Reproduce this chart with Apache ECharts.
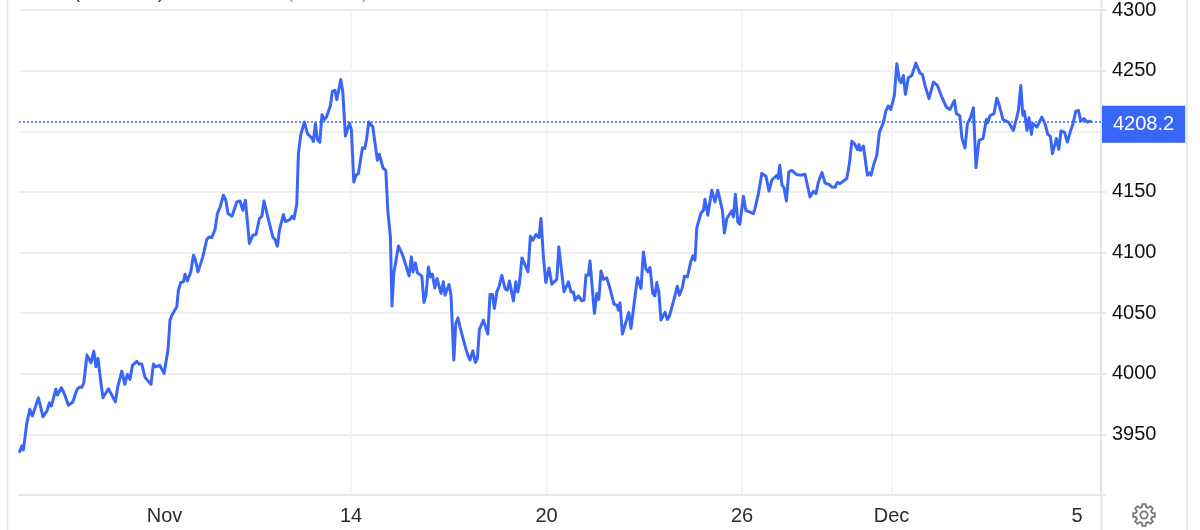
<!DOCTYPE html>
<html>
<head>
<meta charset="utf-8">
<style>html,body{margin:0;padding:0;background:#fff}#c{width:1200px;height:530px}</style>
<script src="https://cdn.jsdelivr.net/npm/echarts@6/dist/echarts.min.js"></script>
</head>
<body>
<div id="c"></div>
<script>
const tickHours = [72.75, 166, 263.75, 361.5, 436.25, 529];
const tickLabels = ['Nov', '14', '20', '26', 'Dec', '5'];
const currentPrice = 4208.2;
const hours = [
0.3,1.4,2.2,3.9,5.4,6.7,7.7,9.7,12,14,15.2,16.2,18.4,19.2,20.2,21.2,22.7,24.7,26.9,28.9,30,31.4,32.4,34,36,37.4,38.5,39.5,41,42,43,44.7,45.7,48.2,49.4,50.4,51.4,52.9,54.2,55.5,56.7,58.9,60,61.4,63,64,66,67.2,68.2,70.4,72.5,74.5,
75.5,76.5,78.9,79.7,80.9,82.2,83,84.2,85.9,87.2,88.2,89.5,90.5,91.9,93.9,95,96.4,98,99.2,100.5,102.2,103.4,104.5,106.5,108.9,110.5,111.9,113.2,115.2,116.9,118.5,120.2,121.4,122.5,123.9,124.9,126.9,128,129.2,130.2,131.2,132.2,133.2,135.5,136.5,137.5,
138.9,139.7,140.9,142.7,144.2,146.4,147.2,148.2,149.2,150.4,151.5,152.7,153.9,154.9,155.7,156.7,158,158.9,160.9,161.9,163.2,165.2,166.2,167.4,168.5,169.7,171.7,172.9,173.7,174.9,176.9,179.2,180.2,182,183.4,184.4,185.7,186.5,187.4,189.7,191.7,193.4,195,196.2,197,198.2,199.2,201.4,202.5,203.5,204.7,205.7,206.7,207.9,209,210,211,212.2,
213,215,216,217.4,218.4,219.5,220.5,221.5,222.9,224.4,225.5,226.9,228.2,229.2,230.2,232.2,234.4,235.5,236.7,237.7,238.9,240,241.4,243,244.2,245.2,247.2,248.4,249.4,250.2,251.5,254.5,255.7,256.9,258.5,260,261,262.2,263.4,265,266.4,268.9,269.9,270.7,272.5,274.7,276,277.2,278,279.7,281.4,282.5,283.5,284.7,285.5,287.7,288.9,289.9,291,292.2,293.9,295.5,297.5,298.9,299.7,300.5,301.7,302.7,304.9,306,306.9,308.2,309.2,311,312.2,313.4,314.4,315.5,316.9,317.9,318.9,319.9,321,321.9,323,324.2,325.2,327.7,329.2,330.2,331.7,332.7,334.2,335.9,336.9,338,338.9,339.9,341,342.2,343,344.4,346.4,348,349.4,351.7,352.7,353.9,356.4,357.2,358.2,359.4,360.4,362.2,363.4,367.2,
368,369.7,371.4,373.5,375,376.4,378.9,379.5,380.4,381.5,382.5,383.7,384.9,386.4,388.9,391,393,395.5,397.2,398.5,399.7,401.5,403,405.2,406.4,408,409.2,410.5,413.9,415.2,416.4,417.7,419.2,420,420.7,422.2,424.2,425.2,426,427.5,428.9,430.2,432.2,433.5,434.7,435.9,437.7,438.9,440.2,441,442.2,443.2,444.7,446.4,448.4,449,
450.5,451.7,453,455,457.2,459.2,461.4,462.4,463.7,464.7,465.5,467.7,468.7,470.4,471.5,473,474.2,475.7,477.2,478.5,480,482,483.7,484.4,485.5,487.5,488.9,490,491,492,494.7,497.2,498.9,499.7,500.9,501.9,502.7,504,505,506.2,507,509,511.4,513,514.4,515.7,516.7,518.7,519.9,521,522.7,524.2,525.7,527,528.4,529.7,530.9,532.5,534,535.7
];
const prices = [
3935.8,3940.4,3937.2,3959.1,3970.7,3965.2,3966.8,3980.2,3964.6,3969.3,3976.1,3973.4,3987.2,3982.5,3983.3,3988.5,3983.3,3974,3976.7,3986.6,3988.8,3988.8,3992.6,4015.4,4009.1,4018.5,4005.8,4012.7,3992.1,3980.2,3981.1,3987.6,3987.2,3976.9,3989.3,3989.9,4002.2,3991.3,3999.5,3995.4,4006.9,4010.2,4008,4008,3997,3998.1,3991.3,4008,4005.8,4006.9,4000.3,4019.5,
4044.2,4048.4,4055.2,4068.9,4075.3,4075.8,4082.1,4076.6,4084,4097.8,4093.7,4084,4084,4096.4,4110.7,4112.8,4112.4,4118.9,4132.1,4137.1,4147.2,4143.1,4132.1,4129.9,4141.7,4142.5,4134.8,4143.1,4107.4,4114.2,4114.8,4128,4129.9,4142.5,4132.6,4132.1,4112.8,4110.7,4105.2,4118.4,4117.8,4131.3,4125.5,4127.2,4129.9,4127.7,
4140.4,4181.5,4197.2,4207.6,4198,4194.4,4191.7,4206.3,4193.1,4190.9,4213.7,4209.5,4212.3,4211.7,4221.3,4233.1,4233.7,4226,4242.7,4232.3,4196,4206.7,4201.3,4158.2,4163.7,4165.1,4186.2,4185.7,4192.5,4207.6,4203.5,4176,4181,4169.7,4167.8,4134.8,4112.8,4055.8,4082.7,4105.4,4098.4,4089.5,4080.7,4096.4,4084,4091.4,4083.2,4080.5,4058.8,4064.8,4088.1,4079.9,4082.1,4070.8,4078.6,4077.8,4066.2,4075.8,
4064.8,4073.6,4064.8,4011.3,4041.5,4046.1,4038.7,4039.5,4023.6,4015.4,4011.3,4018.9,4009.4,4012.7,4036.6,4044.2,4032.7,4065.4,4065.4,4053.9,4067.5,4071.7,4081.3,4070.3,4068.9,4076.6,4060.1,4075.8,4067.5,4074.5,4095.5,4084,4113.4,4110.1,4114.8,4112.4,4128,4096.4,4075.3,4087.3,4073.9,4077.8,4104.6,4103.3,4067.5,4075.8,4067.5,4067.5,4060.7,4064.2,4060.1,4060.7,4081.5,4081.3,4093.1,4049.8,4066.2,4061.3,4084.8,4077.8,4079.1,4070.3,4057.4,4056.6,4052.5,4058.5,4032.7,4032.5,4050.6,4037.4,4036.8,4066.2,4079.1,4070.3,4100.5,4086.8,4084,4087.6,4066.2,4064.2,4075.3,4067.5,4044.2,4043.7,4050.6,4044.8,4047.5,4062.6,4072.2,4064.8,4071.2,4080.5,4079.9,4092.3,4097.2,4093.7,4120.3,4119.2,4132.6,4134.8,4143.9,4130.7,4151.3,4141.7,4151.3,4134.8,4116.1,4128,4134.3,4129.3,4148,4125.2,4123.3,4146.4,4134.8,4132.1,
4136.2,4148.6,4165.1,4162.8,4150.7,4159.6,4163.7,4161,4171.9,4155.4,4153.5,4142.5,4166.4,4167.8,4164.3,4163.7,4164.5,4145.8,4150.5,4148.6,4158.2,4165.9,4157.3,4156,4154,4153.8,4157.9,4156.8,4161,4173.3,4191.7,4189.8,4184.8,4189,4184.3,4187.8,4163.7,4165.6,4163.7,4173.3,4180.1,4199.3,4207.1,4217.2,4220.8,4218,4229.6,4255.7,4241.9,4240,4246,4230.4,4244.1,4246,4256.2,4255.7,
4247.9,4246.9,4237.8,4226.9,4240.5,4237.8,4228.2,4226.9,4219.9,4221.3,4218,4225.4,4214.5,4212.8,4193.9,4186.2,4206.3,4210.9,4219.4,4170,4192.5,4193.9,4209.8,4207.1,4212.8,4214.5,4227.3,4222.2,4222.2,4209.5,4207.6,4200.7,4211.7,4217.2,4237.8,4213.1,4216.6,4200.7,4211.2,4197.4,4206.3,4203.5,4211.7,4206.3,4197.4,4195.8,4181.5,4193.9,4185.1,4200.2,4199.3,4191.1,4199.9,4206.3,4216.6,4217.2,4208.4,4210.4,4207.6,4208.2
];
const seriesData = hours.map((h, i) => [h, prices[i]]);
const BLUE = '#3A66F7';
const FONT = '"Liberation Sans", Arial, sans-serif';
const chart = echarts.init(document.getElementById('c'), null, {renderer: 'canvas'});
const vline = (x) => ({type: 'line', silent: true, shape: {x1: x, y1: 0, x2: x, y2: 530}, style: {stroke: '#e2e2e2', lineWidth: 1.5}});
const clipped = (x, t, color) => ({type: 'text', silent: true, left: x, top: -16, style: {text: t, fill: color, font: '18px ' + FONT}});
// settings-button outline
const gearPoints = [];
for (let i = 0; i < 8; i++) {
  const a = i * Math.PI / 4 - Math.PI / 2;
  [[-0.26, 8.2], [-0.15, 11], [0.15, 11], [0.26, 8.2]].forEach(([d, r]) => {
    gearPoints.push([1144 + r * Math.cos(a + d), 515 + r * Math.sin(a + d)]);
  });
}
chart.setOption({
  animation: false,
  backgroundColor: '#fff',
  grid: {left: 19, right: 99, top: 9.5, bottom: 35, containLabel: false},
  xAxis: {
    type: 'value', min: 0, max: 541, position: 'bottom',
    axisLine: {show: true, onZero: false, lineStyle: {color: '#e4e4e4', width: 1.5}},
    axisTick: {show: false, customValues: tickHours},
    axisLabel: {
      customValues: tickHours, margin: 11, color: '#2b2b2b', fontFamily: FONT, fontSize: 20,
      hideOverlap: false, showMinLabel: true, showMaxLabel: true,
      formatter: (v) => tickLabels[tickHours.indexOf(v)]
    },
    splitLine: {show: true, showMinLine: false, showMaxLine: false, lineStyle: {color: '#eef2f7', width: 1.5}}
  },
  yAxis: {
    type: 'value', min: 3900, max: 4300, interval: 50, position: 'right',
    axisLine: {show: true, onZero: false, lineStyle: {color: '#e2e2e2', width: 1.5}},
    axisTick: {show: true, length: 5, lineStyle: {color: '#e2e2e2', width: 1.5}},
    axisLabel: {
      margin: 11, color: '#111', fontFamily: FONT, fontSize: 20,
      formatter: (v) => v === 3900 ? '' : String(v)
    },
    splitLine: {show: true, lineStyle: {color: '#e8e8e8', width: 1.5}}
  },
  series: [{
    type: 'line', data: seriesData, showSymbol: false, symbol: 'none', smooth: false,
    sampling: false, clip: true,
    lineStyle: {color: BLUE, width: 3, join: 'round', cap: 'round'},
    markLine: {
      silent: true, symbol: 'none', animation: false, precision: 1,
      lineStyle: {color: BLUE, type: [2, 2], width: 1.5, opacity: 1},
      label: {
        show: true, position: 'end', distance: 1, offset: [0, 3],
        formatter: () => currentPrice.toFixed(1),
        color: '#fff', fontFamily: FONT, fontSize: 20,
        backgroundColor: BLUE, padding: [9, 11, 8, 11]
      },
      data: [{yAxis: currentPrice}]
    }
  }],
  graphic: [
    vline(7.5), vline(1187), vline(1101.5),
    clipped(74, '(', '#333'), clipped(158, ')', '#333'),
    clipped(287, '(', '#66cc44'), clipped(362, ')', '#66cc44'),
    {type: 'polygon', silent: true, shape: {points: gearPoints}, style: {fill: 'none', stroke: '#777', lineWidth: 1.8}},
    {type: 'circle', silent: true, shape: {cx: 1144, cy: 515, r: 3.6}, style: {fill: 'none', stroke: '#777', lineWidth: 1.8}}
  ]
});
</script>
</body>
</html>
